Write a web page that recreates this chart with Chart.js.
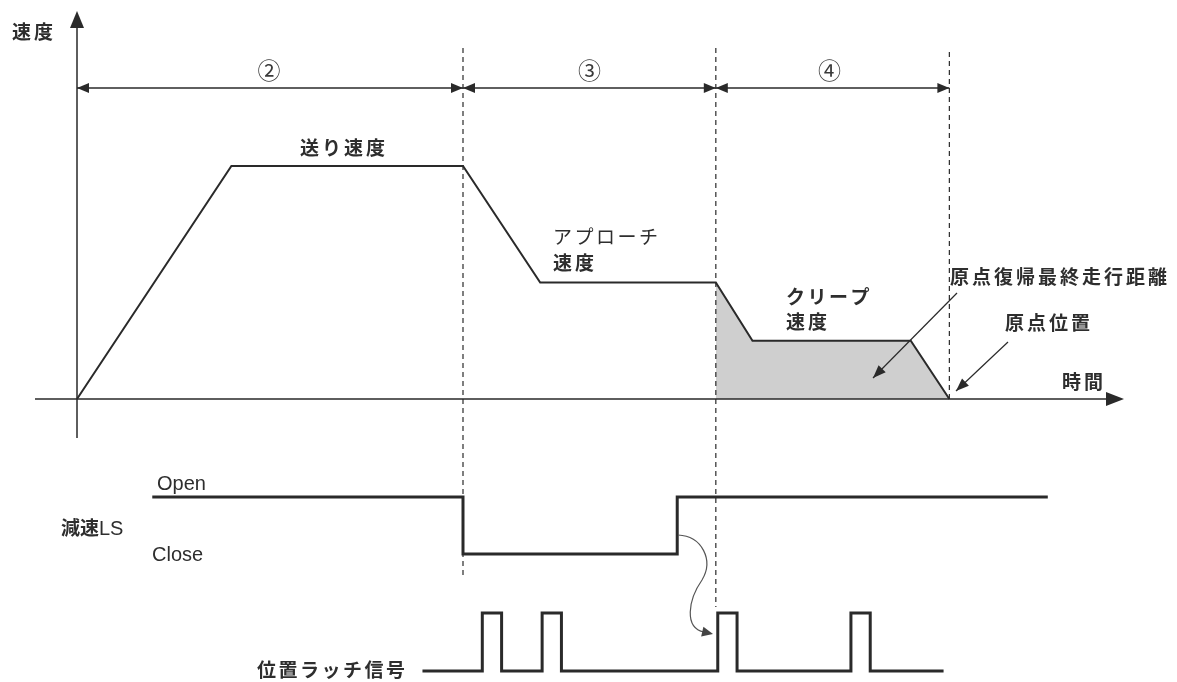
<!DOCTYPE html>
<html>
<head>
<meta charset="utf-8">
<script src="https://cdn.jsdelivr.net/npm/chart.js@4"></script>
<style>
  html, body { margin: 0; padding: 0; background: #fff; }
  #wrap { width: 1177px; height: 682px; position: relative; }
</style>
</head>
<body>
<div id="wrap"><canvas id="chart"></canvas></div>
<script>
// speed profile: time vs speed (feed speed = 100)
const speedTime = [0, 40, 100, 120, 165.5, 175, 216, 226];
const speedValue = [0, 100, 100, 50, 50, 25, 25, 0];

// phase boundaries and their labels
const phaseBounds = [0, 100, 165.5, 226];
const phaseLabels = ["②", "③", "④"];

// deceleration LS edges: 1 = Open, 0 = Close
const lsTime = [19.5, 100, 155.5, 251.5];
const lsState = [1, 0, 1, 1];

// position latch signal edges
const latchTime = [89.5, 105, 110, 120.5, 125.5, 166, 171, 200.5, 205.5, 224.5];
const latchState = [0, 1, 0, 1, 0, 1, 0, 1, 0, 0];

const W = 1177, H = 682;
const ink = "#2a2a2a";
const jp = '"Noto Sans CJK JP", "Noto Sans", sans-serif';
const latin = '"Liberation Sans", Arial, sans-serif';

// scale range so that value v0 lands on pixel p0 and v1 on p1
function fit(p0, v0, p1, v1, size) {
  const k = (p1 - p0) / (v1 - v0);
  const a = v0 - p0 / k;
  const b = v0 + (size - p0) / k;
  return { min: Math.min(a, b), max: Math.max(a, b) };
}

const xr = fit(77, 0, 463, 100, W);
const speedR = fit(399, 0, 166, 100, H);
const lsR = fit(554, 0, 497, 1, H);
const latchR = fit(671, 0, 613, 1, H);

const pts = (xs, ys) => xs.map((t, i) => ({ x: t, y: ys[i] }));
const creepPts = pts(speedTime, speedValue).filter((p) => p.x >= phaseBounds[2]);

function head(ctx, tx, ty, fx, fy, len, half) {
  const a = Math.atan2(ty - fy, tx - fx);
  ctx.beginPath();
  ctx.moveTo(tx, ty);
  ctx.lineTo(tx - len * Math.cos(a) + half * Math.sin(a), ty - len * Math.sin(a) - half * Math.cos(a));
  ctx.lineTo(tx - len * Math.cos(a) - half * Math.sin(a), ty - len * Math.sin(a) + half * Math.cos(a));
  ctx.closePath();
  ctx.fill();
}

function arrow(ctx, fx, fy, tx, ty, len, half) {
  ctx.beginPath();
  ctx.moveTo(fx, fy);
  ctx.lineTo(tx, ty);
  ctx.stroke();
  head(ctx, tx, ty, fx, fy, len, half);
}

function text(ctx, s, x, y, font, spacing) {
  ctx.font = font;
  ctx.letterSpacing = spacing || "0px";
  ctx.fillText(s, x, y);
}

const overlay = {
  id: "overlay",
  afterDatasetsDraw(chart) {
    const ctx = chart.ctx;
    const sx = chart.scales.x;
    const sy = chart.scales.ySpeed;
    const x0 = sx.getPixelForValue(0);
    const y0 = sy.getPixelForValue(0);
    ctx.save();
    ctx.strokeStyle = ink;
    ctx.fillStyle = ink;

    // axes
    ctx.lineWidth = 1.5;
    ctx.beginPath();
    ctx.moveTo(x0, 438);
    ctx.lineTo(x0, 24);
    ctx.moveTo(35, y0);
    ctx.lineTo(1110, y0);
    ctx.stroke();
    head(ctx, x0, 11, x0, 40, 17, 7);
    head(ctx, 1124, y0, 1000, y0, 18, 7);

    // dashed phase boundaries
    const dashEnds = [577, 607, y0];
    const dashTops = [48, 48, 52];
    ctx.setLineDash([5, 4]);
    ctx.lineWidth = 1.2;
    phaseBounds.slice(1).forEach((t, i) => {
      const px = sx.getPixelForValue(t);
      ctx.beginPath();
      ctx.moveTo(px, dashTops[i]);
      ctx.lineTo(px, dashEnds[i]);
      ctx.stroke();
    });
    ctx.setLineDash([]);

    // dimension arrows with phase labels
    const dy = 88;
    ctx.lineWidth = 1.5;
    ctx.textAlign = "center";
    ctx.textBaseline = "middle";
    for (let i = 0; i < phaseLabels.length; i++) {
      const a = sx.getPixelForValue(phaseBounds[i]);
      const b = sx.getPixelForValue(phaseBounds[i + 1]);
      ctx.beginPath();
      ctx.moveTo(a, dy);
      ctx.lineTo(b, dy);
      ctx.stroke();
      head(ctx, a, dy, a + 10, dy, 12, 5);
      head(ctx, b, dy, b - 10, dy, 12, 5);
      ctx.fillStyle = "#3a3a3a";
      text(ctx, phaseLabels[i], (a + b) / 2 + (i === 0 ? -1 : i === 2 ? -3 : 0), 70, "23px " + jp);
      ctx.fillStyle = ink;
    }

    // leader arrows
    ctx.lineWidth = 1.2;
    arrow(ctx, 957, 293, 873, 378, 13, 5);
    arrow(ctx, 1008, 342, 956, 391, 13, 5);

    // curved arrow from LS edge to latch pulse
    ctx.strokeStyle = "#555";
    ctx.fillStyle = "#444";
    ctx.lineWidth = 1.2;
    ctx.beginPath();
    ctx.moveTo(678, 535);
    ctx.bezierCurveTo(702, 536, 714, 560, 702, 580);
    ctx.bezierCurveTo(688, 600, 684, 628, 704, 632);
    ctx.stroke();
    head(ctx, 713, 634, 700, 631, 11, 5);

    // labels
    ctx.fillStyle = "#2e2e2e";
    ctx.textAlign = "left";
    const f = "bold 19px " + jp;
    text(ctx, "速度", 12, 32, f, "3px");
    text(ctx, "送り速度", 300, 148, f, "3px");
    text(ctx, "アプローチ", 553, 237, "19px " + jp, "2.5px");
    text(ctx, "速度", 553, 263, f, "3px");
    text(ctx, "クリープ", 786, 297, f, "2.5px");
    text(ctx, "速度", 786, 322, f, "3px");
    text(ctx, "原点復帰最終走行距離", 950, 277, f, "3px");
    text(ctx, "原点位置", 1005, 323, f, "3px");
    text(ctx, "時間", 1062, 382, f, "3px");
    text(ctx, "位置ラッチ信号", 257, 670, f, "2.5px");
    text(ctx, "減速", 61, 528, f, "0px");
    text(ctx, "LS", 99, 529, "20px " + latin, "0px");
    text(ctx, "Open", 157, 484, "20px " + latin, "0px");
    text(ctx, "Close", 152, 555, "20px " + latin, "0px");
    ctx.restore();
  },
};

const lineBase = { pointRadius: 0, tension: 0, borderCapStyle: "butt", borderJoinStyle: "miter" };

new Chart(document.getElementById("chart"), {
  type: "line",
  data: {
    datasets: [
      { ...lineBase, label: "速度", data: pts(speedTime, speedValue), yAxisID: "ySpeed",
        borderColor: ink, borderWidth: 2, fill: false, order: 1 },
      { ...lineBase, label: "原点復帰最終走行距離", data: creepPts, yAxisID: "ySpeed",
        borderWidth: 0, borderColor: "rgba(0,0,0,0)", backgroundColor: "#cfcfcf", fill: "origin", order: 5 },
      { ...lineBase, label: "減速LS", data: pts(lsTime, lsState), yAxisID: "yLS",
        stepped: true, borderColor: ink, borderWidth: 3, fill: false, order: 1 },
      { ...lineBase, label: "位置ラッチ信号", data: pts(latchTime, latchState), yAxisID: "yLatch",
        stepped: true, borderColor: ink, borderWidth: 3, fill: false, order: 1 },
    ],
  },
  options: {
    responsive: true,
    maintainAspectRatio: false,
    animation: false,
    events: [],
    layout: { padding: 0 },
    plugins: { legend: { display: false }, tooltip: { enabled: false } },
    scales: {
      x: { type: "linear", display: false, bounds: "data", min: xr.min, max: xr.max },
      ySpeed: { type: "linear", display: false, bounds: "data", min: speedR.min, max: speedR.max },
      yLS: { type: "linear", display: false, bounds: "data", min: lsR.min, max: lsR.max },
      yLatch: { type: "linear", display: false, bounds: "data", min: latchR.min, max: latchR.max },
    },
  },
  plugins: [overlay],
});
</script>
</body>
</html>
